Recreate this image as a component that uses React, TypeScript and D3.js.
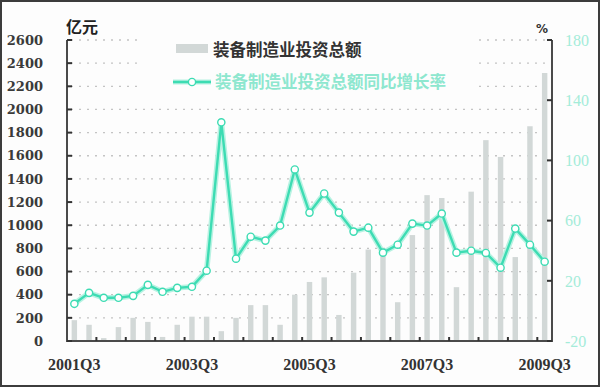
import React from "react";
import * as d3 from "d3";

const quarters = [
  "2001Q3","2001Q4","2002Q1","2002Q2","2002Q3","2002Q4","2003Q1","2003Q2","2003Q3","2003Q4",
  "2004Q1","2004Q2","2004Q3","2004Q4","2005Q1","2005Q2","2005Q3","2005Q4","2006Q1","2006Q2",
  "2006Q3","2006Q4","2007Q1","2007Q2","2007Q3","2007Q4","2008Q1","2008Q2","2008Q3","2008Q4",
  "2009Q1","2009Q2","2009Q3",
];
const investment = [
  180, 140, 25, 120, 200, 165, 35, 140, 210, 210,
  85, 200, 310, 310, 140, 400, 510, 550, 225, 590,
  790, 800, 335, 915, 1260, 1235, 465, 1290, 1735, 1590,
  725, 1855, 2315,
];
const growth = [
  4.7, 12, 8.7, 8.7, 10, 17.3, 12.7, 15.3, 16, 26.7,
  125.3, 34.7, 49.3, 46.7, 56.7, 94, 65.3, 78, 65.3, 52.7,
  55.3, 38.7, 44, 58, 56.7, 64.7, 38.7, 40, 38.5, 28.7,
  54.7, 44, 32.7,
];
const leftTicks = [0, 200, 400, 600, 800, 1000, 1200, 1400, 1600, 1800, 2000, 2200, 2400, 2600];
const rightTicks = [-20, 20, 60, 100, 140, 180];
const xLabels = ["2001Q3", "2003Q3", "2005Q3", "2007Q3", "2009Q3"];
const legendBar = "装备制造业投资总额";
const legendLine = "装备制造业投资总额同比增长率";

const W = 600, H = 387;
const L = 67, R = 552, T = 40, B = 341;
const LINE = "#3ddcb3";
const MINT_TEXT = "#8ee7cf";

export default function App() {
  const x = d3.scaleBand<string>().domain(quarters).range([L, R]).padding(0);
  const yL = d3.scaleLinear().domain([0, 2600]).range([B, T]);
  const yR = d3.scaleLinear().domain([-20, 180]).range([B, T]);
  const bw = x.bandwidth() * 0.37;
  const cx = (q: string) => (x(q) as number) + x.bandwidth() / 2;

  const line = d3
    .line<number>()
    .x((_, i) => cx(quarters[i]))
    .y((d) => yR(d));
  const path = line(growth) || "";

  const xTickIdx = quarters.map((_, i) => i).filter((i) => i > 0 && i % 2 === 0);

  return (
    <svg
      width={W}
      height={H}
      style={{ position: "fixed", left: 0, top: 0, background: "#fdfdfd" }}
    >
      <rect x={0} y={0} width={W} height={H} fill="#fdfdfd" />
      {/* grid */}
      {leftTicks.filter((v) => v > 0).map((v) => (
        <line
          key={"g" + v}
          x1={L + 4}
          x2={R - 4}
          y1={yL(v)}
          y2={yL(v)}
          stroke="#c4c4c4"
          strokeWidth={1.3}
          strokeDasharray="2,6"
        />
      ))}
      {/* bars */}
      {quarters.map((q, i) => (
        <rect
          key={"b" + q}
          x={cx(q) - bw / 2}
          y={yL(investment[i])}
          width={bw}
          height={B - yL(investment[i])}
          fill="#d2d8d7"
        />
      ))}
      {/* legend background */}
      <rect x={140} y={33} width={335} height={63} fill="#fdfdfd" />
      {/* line glow */}
      <path d={path} fill="none" stroke="#b8f2e2" strokeWidth={5.5} strokeLinejoin="round" />
      <path d={path} fill="none" stroke={LINE} strokeWidth={2.4} strokeLinejoin="round" />
      {growth.map((v, i) => (
        <circle
          key={"c" + i}
          cx={cx(quarters[i])}
          cy={yR(v)}
          r={3.6}
          fill="#ffffff"
          stroke={LINE}
          strokeWidth={1.4}
        />
      ))}
      {/* axes */}
      <line x1={L} x2={L} y1={T} y2={B + 1} stroke="#4a4a4a" strokeWidth={2} />
      <line x1={R} x2={R} y1={T} y2={B + 1} stroke="#4a4a4a" strokeWidth={2} />
      <line x1={L - 1} x2={R + 1} y1={B} y2={B} stroke="#4a4a4a" strokeWidth={2} />
      {leftTicks.map((v) => (
        <line key={"lt" + v} x1={L} x2={L + 5} y1={yL(v)} y2={yL(v)} stroke="#333" strokeWidth={2} />
      ))}
      {rightTicks.map((v) => (
        <line key={"rt" + v} x1={R - 5} x2={R} y1={yR(v)} y2={yR(v)} stroke="#333" strokeWidth={2} />
      ))}
      {xTickIdx.map((i) => (
        <line
          key={"xt" + i}
          x1={x(quarters[i]) as number}
          x2={x(quarters[i]) as number}
          y1={B}
          y2={B - 4}
          stroke="#333"
          strokeWidth={2}
        />
      ))}
      {/* left labels */}
      {leftTicks.map((v) => (
        <text
          key={"ll" + v}
          x={43}
          y={yL(v)}
          dy="0.36em"
          textAnchor="end"
          fontFamily="DejaVu Serif"
          fontWeight="bold"
          fontSize={13}
          fill="#3a3a3a"
        >
          {v}
        </text>
      ))}
      {/* right labels */}
      {rightTicks.map((v) => (
        <text
          key={"rl" + v}
          x={565}
          y={yR(v)}
          dy="0.36em"
          textAnchor="start"
          fontFamily="Liberation Serif"
          fontSize={16}
          fill="#a4ecd9"
        >
          {v}
        </text>
      ))}
      {/* x labels */}
      {xLabels.map((q) => (
        <text
          key={"xl" + q}
          x={cx(q)}
          y={370}
          textAnchor="middle"
          fontFamily="Liberation Serif"
          fontWeight="bold"
          fontSize={16}
          fill="#333"
        >
          {q}
        </text>
      ))}
      {/* units */}
      <text x={66} y={33} fontFamily="Noto Sans CJK SC" fontWeight="bold" fontSize={16} fill="#222">
        亿元
      </text>
      <text x={536} y={33} fontFamily="DejaVu Sans" fontWeight="bold" fontSize={12} fill="#333">
        %
      </text>
      {/* legend */}
      <rect x={176} y={44} width={32} height={9} fill="#d2d8d7" />
      <text x={213} y={50} dy="0.36em" fontFamily="Noto Sans CJK SC" fontWeight="bold" fontSize={16.5} fill="#333">
        {legendBar}
      </text>
      <line x1={173} x2={211} y1={82} y2={82} stroke="#b8f2e2" strokeWidth={5} />
      <line x1={173} x2={211} y1={82} y2={82} stroke={LINE} strokeWidth={2.4} />
      <circle cx={192} cy={82} r={3.6} fill="#fff" stroke={LINE} strokeWidth={1.4} />
      <text x={215} y={82} dy="0.36em" fontFamily="Noto Sans CJK SC" fontWeight="bold" fontSize={16.5} fill={MINT_TEXT}>
        {legendLine}
      </text>
      {/* frame */}
      <rect x={1} y={1} width={W - 2} height={H - 2} fill="none" stroke="#3c3c3c" strokeWidth={2} />
    </svg>
  );
}
